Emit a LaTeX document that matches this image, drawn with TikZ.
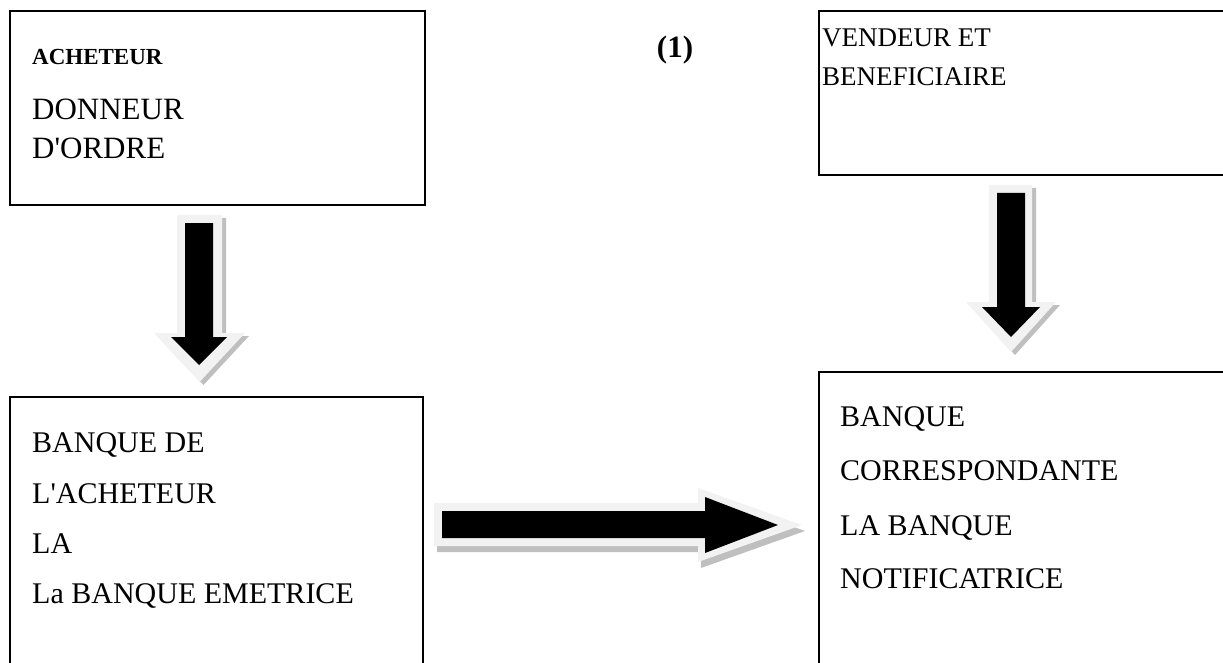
\documentclass[tikz,border=0pt]{standalone}
\usepackage{fontspec}
\setmainfont{Liberation Serif}
\definecolor{halo}{HTML}{F2F2F2}
\definecolor{shade}{HTML}{BFBFBF}
\begin{document}
\begin{tikzpicture}[x=1pt,y=-1pt,
  frame/.style={draw=black,line width=1.6pt},
  lbl/.style={anchor=base west,inner sep=0pt,font=\fontsize{30}{36}\selectfont},
  lblA/.style={anchor=base west,inner sep=0pt,font=\fontsize{31}{36}\selectfont},
  lblB/.style={anchor=base west,inner sep=0pt,font=\fontsize{27}{32}\selectfont},
  small/.style={anchor=base west,inner sep=0pt,font=\bfseries\fontsize{23}{28}\selectfont},
  blackarrow/.style={fill=black},
  haloarrow/.style={fill=halo},
  shadearrow/.style={fill=shade}]
\useasboundingbox (0,0) rectangle (1223,663);
\clip (0,0) rectangle (1223,663);
% boxes
\draw[frame] (10,11) rectangle (425,205);
\draw[frame] (819,11) rectangle (1240,175);
\draw[frame] (10,397) rectangle (423,690);
\draw[frame] (819,372) rectangle (1240,690);
% box 1 text
\node[small] (t1) at (32,65) {ACHETEUR};
\node[lblA] (t2) at (32,120) {DONNEUR};
\node[lblA] (t3) at (32,159) {D\textquotesingle ORDRE};
% (1)
\node[inner sep=0pt,font=\bfseries\fontsize{31}{36}\selectfont] (one) at (675,50) {(1)};
% box 2 text
\node[lblB] (t4) at (822,47) {VENDEUR ET};
\node[lblB] (t5) at (822,86) {BENEFICIAIRE};
% box 3 text
\node[lbl] (t6) at (32,452) {BANQUE DE};
\node[lbl] (t7) at (32,503) {L\textquotesingle ACHETEUR};
\node[lbl] (t8) at (32,553) {LA};
\node[lbl] (t9) at (32,603) {La BANQUE EMETRICE};
% box 4 text
\node[lbl] (t10) at (840,426) {BANQUE};
\node[lbl] (t11) at (840,480) {CORRESPONDANTE};
\node[lbl] (t12) at (840,535) {LA BANQUE};
\node[lbl] (t13) at (840,588) {NOTIFICATRICE};
% left vertical arrow
\begin{scope}[shift={(4,3)}]
\fill[shadearrow] (177,215) -- (222,215) -- (222,333) -- (245,333) -- (199.5,382) -- (154,333) -- (177,333) -- cycle;
\end{scope}
\fill[haloarrow] (177,215) -- (222,215) -- (222,333) -- (245,333) -- (199.5,382) -- (154,333) -- (177,333) -- cycle;
\fill[blackarrow] (185,223) -- (213,223) -- (213,337) -- (227,337) -- (199,365) -- (171,337) -- (185,337) -- cycle;
% right vertical arrow
\begin{scope}[shift={(4,3)}]
\fill[shadearrow] (989,185) -- (1032,185) -- (1032,302) -- (1056,302) -- (1011,352) -- (966,302) -- (989,302) -- cycle;
\end{scope}
\fill[haloarrow] (989,185) -- (1032,185) -- (1032,302) -- (1056,302) -- (1011,352) -- (966,302) -- (989,302) -- cycle;
\fill[blackarrow] (997,193) -- (1025,193) -- (1025,307) -- (1040,307) -- (1011,337) -- (982,307) -- (997,307) -- cycle;
% horizontal arrow
\begin{scope}[shift={(3,6)}]
\fill[shadearrow] (434,503) -- (698,503) -- (698,488) -- (802,525) -- (698,562) -- (698,546) -- (434,546) -- cycle;
\end{scope}
\fill[haloarrow] (434,503) -- (698,503) -- (698,488) -- (802,525) -- (698,562) -- (698,546) -- (434,546) -- cycle;
\fill[blackarrow] (442,511) -- (705,511) -- (705,497) -- (778,525) -- (705,553) -- (705,538) -- (442,538) -- cycle;
\end{tikzpicture}
\end{document}
